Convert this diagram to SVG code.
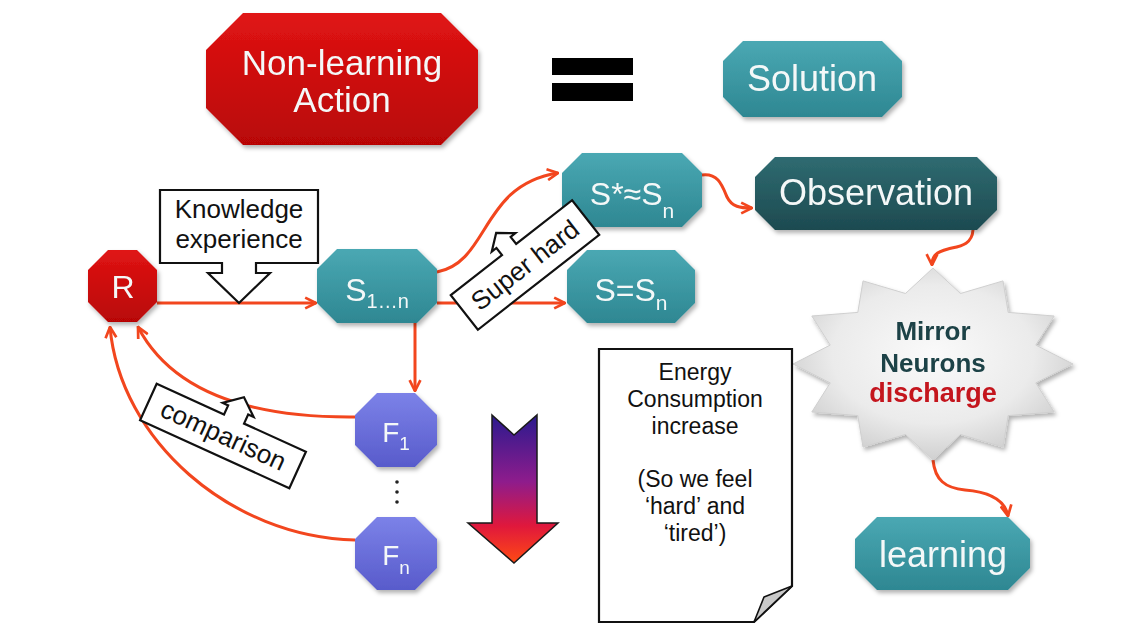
<svg xmlns="http://www.w3.org/2000/svg" width="1140" height="623" viewBox="0 0 1140 623">
  <defs>
    <style>
      text { font-family: "Liberation Sans", Arial, sans-serif; }
      .nodeText { fill: #f4f8f8; text-anchor: middle; }
      .callText { fill: #111; text-anchor: middle; font-size: 26px; }
      .noteText { fill: #111; text-anchor: middle; font-size: 23px; }
      .starText { text-anchor: middle; font-weight: bold; }
      .link { fill: none; stroke: #f2461e; stroke-width: 3; marker-end: url(#openArrow); }
      .callout { fill: #ffffff; stroke: #111; stroke-width: 2.2; stroke-linejoin: miter; }
    </style>
    <linearGradient id="gRed" x1="0" y1="0" x2="0" y2="1">
      <stop offset="0" stop-color="#e01414"/>
      <stop offset="1" stop-color="#b80606"/>
    </linearGradient>
    <linearGradient id="gTeal" x1="0" y1="0" x2="0" y2="1">
      <stop offset="0" stop-color="#4aa8b3"/>
      <stop offset="1" stop-color="#2e8792"/>
    </linearGradient>
    <linearGradient id="gDark" x1="0" y1="0" x2="0" y2="1">
      <stop offset="0" stop-color="#2f6b71"/>
      <stop offset="1" stop-color="#1d4a50"/>
    </linearGradient>
    <linearGradient id="gPurple" x1="0" y1="0" x2="0" y2="1">
      <stop offset="0" stop-color="#7c82e8"/>
      <stop offset="1" stop-color="#585bcb"/>
    </linearGradient>
    <linearGradient id="gDown" x1="0" y1="0" x2="0" y2="1">
      <stop offset="0" stop-color="#2a1a8e"/>
      <stop offset="0.45" stop-color="#8e1c8c"/>
      <stop offset="0.75" stop-color="#e0183c"/>
      <stop offset="1" stop-color="#ff4a14"/>
    </linearGradient>
    <radialGradient id="gStar" cx="0.5" cy="0.45" r="0.6">
      <stop offset="0" stop-color="#fafafa"/>
      <stop offset="0.6" stop-color="#ebebeb"/>
      <stop offset="1" stop-color="#c9c9c9"/>
    </radialGradient>
    <filter id="shadow" x="-10%" y="-10%" width="130%" height="140%">
      <feDropShadow dx="2" dy="3" stdDeviation="2" flood-color="#000" flood-opacity="0.3"/>
    </filter>
    <marker id="openArrow" viewBox="0 0 10 10" refX="9" refY="5" markerWidth="4.5" markerHeight="4.5" orient="auto" markerUnits="strokeWidth">
      <path d="M1 1 L9 5 L1 9" fill="none" stroke="#f2461e" stroke-width="2"/>
    </marker>
  </defs>

  <rect width="1140" height="623" fill="#ffffff"/>

  <!-- headline: Non-learning Action = Solution -->
  <g id="nonLearning" filter="url(#shadow)">
    <polygon points="243,13 441,13 478,50 478,108 441,145 243,145 206,108 206,50" fill="url(#gRed)"/>
    <text class="nodeText" x="342" y="75" font-size="35">Non-learning</text>
    <text class="nodeText" x="342" y="112" font-size="35">Action</text>
  </g>
  <g id="equals">
    <rect x="552" y="58" width="81" height="17" fill="#000"/>
    <rect x="552" y="83" width="81" height="18" fill="#000"/>
  </g>
  <g id="solution" filter="url(#shadow)">
    <polygon points="743,41 882,41 902,61 902,97 882,117 743,117 723,97 723,61" fill="url(#gTeal)"/>
    <text class="nodeText" x="812" y="91" font-size="36">Solution</text>
  </g>

  <!-- connectors -->
  <g id="connectors">
    <path class="link" d="M157 303 H316"/>
    <path class="link" d="M437 272 C490 262 480 185 558 173"/>
    <path class="link" d="M437 303 H565"/>
    <path class="link" d="M702 175 C718 173 722 185 727 197 C732 207 740 208 752 208"/>
    <path class="link" d="M973 230 C972 245 960 246 948 249 C936 252 932 256 932 265"/>
    <path class="link" d="M933 460 C935 480 945 488 965 490 C990 492 1005 500 1008 516"/>
    <path class="link" d="M415 323 V391"/>
    <path class="link" d="M355 417 C250 418 172 392 138 327"/>
    <path class="link" d="M355 540 C230 537 120 440 110 327"/>
  </g>

  <g id="R" filter="url(#shadow)">
    <polygon points="108,250 137,250 157,270 157,302 137,322 108,322 88,302 88,270" fill="url(#gRed)"/>
    <text class="nodeText" x="123" y="298" font-size="32">R</text>
  </g>

  <g id="knowledge">
    <path class="callout" d="M160 190 H318 V263 H256 V273 H270 L239 303 L208 273 H222 V263 H160 Z"/>
    <text class="callText" x="239" y="218">Knowledge</text>
    <text class="callText" x="239" y="248">experience</text>
  </g>

  <g id="S1n" filter="url(#shadow)">
    <polygon points="337,249 417,249 437,269 437,303 417,323 337,323 317,303 317,269" fill="url(#gTeal)"/>
    <text class="nodeText" x="377" y="301" font-size="32">S<tspan font-size="20" dy="7">1…n</tspan></text>
  </g>

  <g id="Sstar" filter="url(#shadow)">
    <polygon points="582,153 682,153 702,173 702,207 682,227 582,227 562,207 562,173" fill="url(#gTeal)"/>
    <text class="nodeText" x="632" y="205" font-size="32">S*≈S<tspan font-size="21" dy="13">n</tspan></text>
  </g>

  <g id="Sequal" filter="url(#shadow)">
    <polygon points="587,250 675,250 695,270 695,303 675,323 587,323 567,303 567,270" fill="url(#gTeal)"/>
    <text class="nodeText" x="631" y="301" font-size="32">S=S<tspan font-size="21" dy="9">n</tspan></text>
  </g>

  <g id="superHard" transform="translate(525,265) rotate(-38)">
    <path class="callout" d="M-77 -22 H-12 V-31 H-18 L-3 -43 L12 -31 H6 V-22 H77 V22 H-77 Z"/>
    <text class="callText" x="0" y="9">Super hard</text>
  </g>

  <g id="observation" filter="url(#shadow)">
    <polygon points="775,157 977,157 997,177 997,210 977,230 775,230 755,210 755,177" fill="url(#gDark)"/>
    <text class="nodeText" x="876" y="205" font-size="36">Observation</text>
  </g>

  <g id="mirrorNeurons" filter="url(#shadow)">
    <polygon points="933,268 960.5,293.5 1003,280.9 1008.2,312.4 1054.2,316 1035.8,345.1 1073,364 1035.8,382.9 1054.2,412 1008.2,415.6 1003,447.1 960.5,434.5 933,460 905.5,434.5 863,447.1 857.8,415.6 811.8,412 830.2,382.9 793,364 830.2,345.1 811.8,316 857.8,312.4 863,280.9 905.5,293.5" fill="url(#gStar)" stroke="#cfcfcf" stroke-width="1"/>
    <text class="starText" x="933" y="340" font-size="26" fill="#1f4347">Mirror</text>
    <text class="starText" x="933" y="372" font-size="26" fill="#1f4347">Neurons</text>
    <text class="starText" x="933" y="402" font-size="27" fill="#c4121e">discharge</text>
  </g>

  <g id="learning" filter="url(#shadow)">
    <polygon points="877,517 1008,517 1030,539 1030,568 1008,590 877,590 855,568 855,539" fill="url(#gTeal)"/>
    <text class="nodeText" x="943" y="567" font-size="36">learning</text>
  </g>

  <g id="F1" filter="url(#shadow)">
    <polygon points="377,393 415,393 437,415 437,445 415,467 377,467 355,445 355,415" fill="url(#gPurple)"/>
    <text class="nodeText" x="396" y="442" font-size="28">F<tspan font-size="19" dy="8">1</tspan></text>
  </g>

  <g id="dots" fill="#222">
    <circle cx="397" cy="482" r="1.8"/>
    <circle cx="397" cy="492" r="1.8"/>
    <circle cx="397" cy="502" r="1.8"/>
  </g>

  <g id="Fn" filter="url(#shadow)">
    <polygon points="377,517 415,517 437,539 437,568 415,590 377,590 355,568 355,539" fill="url(#gPurple)"/>
    <text class="nodeText" x="396" y="565" font-size="28">F<tspan font-size="19" dy="9">n</tspan></text>
  </g>

  <g id="comparison" transform="translate(223,436) rotate(24.5)">
    <path class="callout" d="M-82 -20 H-8 V-30 H-14 L3 -44 L20 -30 H14 V-20 H82 V20 H-82 Z"/>
    <text class="callText" x="0" y="8">comparison</text>
  </g>

  <g id="downArrow">
    <polygon points="492,415 514,435 537,415 537,523 558,523 514,563 468,523 492,523" fill="url(#gDown)" stroke="#1a1a1a" stroke-width="1.5" stroke-linejoin="miter"/>
  </g>

  <g id="energyNote">
    <path d="M599 349 H792 V586 L754 622 H599 Z" fill="#ffffff" stroke="#111" stroke-width="2.2"/>
    <path d="M792 586 L754 622 L764 597 Z" fill="#c9c9c9" stroke="#111" stroke-width="1.6" stroke-linejoin="round"/>
    <text class="noteText" x="695" y="380">Energy</text>
    <text class="noteText" x="695" y="407">Consumption</text>
    <text class="noteText" x="695" y="434">increase</text>
    <text class="noteText" x="695" y="487">(So we feel</text>
    <text class="noteText" x="695" y="514">‘hard’ and</text>
    <text class="noteText" x="695" y="541">‘tired’)</text>
  </g>
</svg>
